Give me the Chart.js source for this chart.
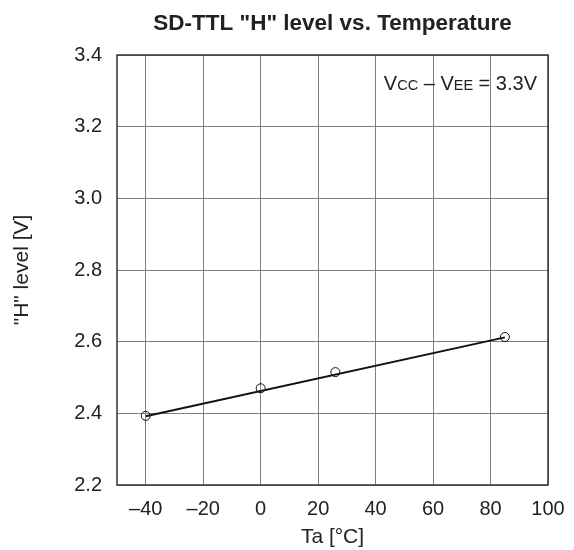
<!DOCTYPE html>
<html>
<head>
<meta charset="utf-8">
<script src="https://cdn.jsdelivr.net/npm/chart.js@4.4.1/dist/chart.umd.min.js"></script>
<style>
  html, body { margin: 0; padding: 0; background: #fff; }
  #wrap { width: 574px; height: 550px; position: relative; }
</style>
</head>
<body>
<div id="wrap"><canvas id="chart"></canvas></div>
<script>
// measured points
const temps = [-40, 0, 26, 85];
const levels = [2.393, 2.47, 2.515, 2.613];
// straight fit line drawn through them
const fitTemps = [-40, 85];
const fitLevels = [2.392, 2.612];
const xTicks = [-40, -20, 0, 20, 40, 60, 80, 100];
const yTicks = [2.2, 2.4, 2.6, 2.8, 3.0, 3.2, 3.4];
const chartTitle = 'SD-TTL "H" level vs. Temperature';
const FONT = '"Liberation Sans", Arial, Helvetica, sans-serif';

// frame, title and the Vcc note
const extras = {
    id: 'extras',
    afterDraw(chart) {
        const { ctx, chartArea: a } = chart;
        ctx.save();
        ctx.strokeStyle = '#333';
        ctx.lineWidth = 1.5;
        ctx.strokeRect(a.left, a.top, a.right - a.left, a.bottom - a.top);

        ctx.fillStyle = '#222';
        ctx.font = 'bold 22.5px ' + FONT;
        ctx.textAlign = 'center';
        ctx.textBaseline = 'alphabetic';
        ctx.fillText(chartTitle, (a.left + a.right) / 2, 30);

        // Vcc - Vee = 3.3V with small caps
        const parts = [['V', 20], ['CC', 14.5], [' \u2013 V', 20], ['EE', 14.5], [' = 3.3V', 20]];
        let w = 0;
        parts.forEach(p => { ctx.font = p[1] + 'px ' + FONT; w += ctx.measureText(p[0]).width; });
        let x = a.right - 11 - w;
        ctx.textAlign = 'left';
        parts.forEach(p => {
            ctx.font = p[1] + 'px ' + FONT;
            ctx.fillText(p[0], x, 90);
            x += ctx.measureText(p[0]).width;
        });
        ctx.restore();
    }
};

new Chart(document.getElementById('chart'), {
    type: 'scatter',
    data: {
        datasets: [
            { label: 'fit', data: fitTemps.map((t, i) => ({ x: t, y: fitLevels[i] })), showLine: true, borderColor: '#111', borderWidth: 2, pointRadius: 0, fill: false },
            { label: 'H level', data: temps.map((t, i) => ({ x: t, y: levels[i] })), pointStyle: 'circle', pointRadius: 4.5, borderColor: '#111', borderWidth: 1, backgroundColor: 'rgba(0,0,0,0)' }
        ]
    },
    options: {
        responsive: true, maintainAspectRatio: false, animation: false,
        layout: { padding: { top: 55, right: 26, bottom: 0, left: 0 } },
        plugins: { legend: { display: false }, tooltip: { enabled: false } },
        scales: {
            x: {
                type: 'linear', min: -50, max: 100,
                afterBuildTicks: s => { s.ticks = xTicks.map(v => ({ value: v })); },
                afterFit: s => { s.height = 65; s.paddingRight = 0; s.paddingLeft = 0; },
                grid: { color: '#808080', lineWidth: 1, drawTicks: false },
                border: { display: false },
                ticks: { padding: 12, color: '#222', font: { family: FONT, size: 20 }, maxRotation: 0,
                    callback: v => v < 0 ? '\u2013' + Math.abs(v) : String(v) },
                title: { display: true, text: 'Ta [°C]', color: '#222', font: { family: FONT, size: 21 }, padding: { top: 0, bottom: 0 } }
            },
            y: {
                min: 2.2, max: 3.4,
                afterBuildTicks: s => { s.ticks = yTicks.map(v => ({ value: v })); },
                afterFit: s => { s.width = 117; },
                grid: { color: '#808080', lineWidth: 1, drawTicks: false },
                border: { display: false },
                ticks: { padding: 15, color: '#222', font: { family: FONT, size: 20 },
                    callback: v => Number(v).toFixed(1) },
                title: { display: true, text: '"H" level [V]', color: '#222', font: { family: FONT, size: 21 }, padding: { top: 10, bottom: 0 } }
            }
        }
    },
    plugins: [extras]
});
</script>
</body>
</html>
